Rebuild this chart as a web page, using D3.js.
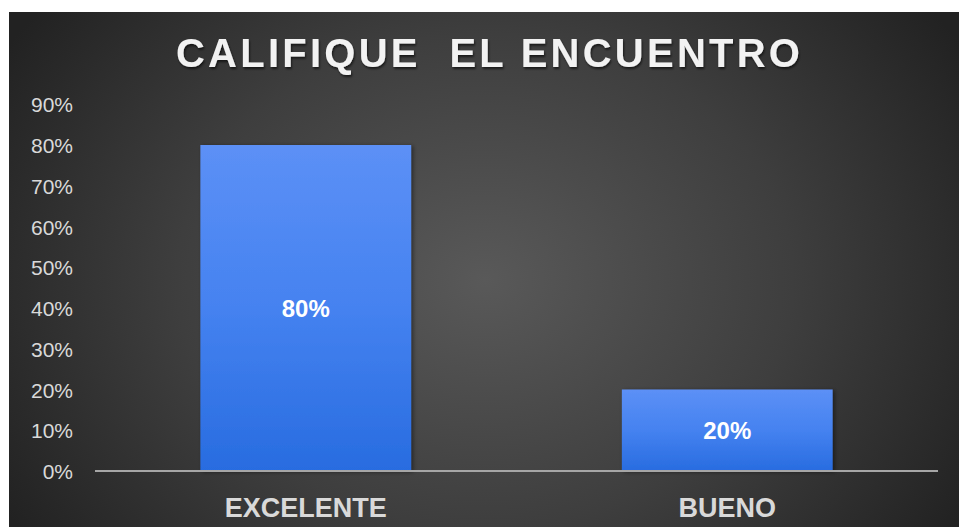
<!DOCTYPE html>
<html>
<head>
<meta charset="utf-8">
<script src="https://cdn.jsdelivr.net/npm/d3@7"></script>
<style>
  html, body { margin: 0; padding: 0; background: #ffffff; }
  svg { display: block; }
</style>
</head>
<body>
<svg id="chart" width="959" height="527"></svg>
<script>
// Survey results: rating of the meeting
const title = "CALIFIQUE  EL ENCUENTRO";
const categories = ["EXCELENTE", "BUENO"];
const values = [0.80, 0.20];
const yTicks = [0, 0.1, 0.2, 0.3, 0.4, 0.5, 0.6, 0.7, 0.8, 0.9];

const W = 959, H = 527;
const frame = { x: 9, y: 12 };
const plot = { left: 95, right: 938, top: 104.25, bottom: 471 };

const svg = d3.select("#chart");
const defs = svg.append("defs");

// dark radial background
const bg = defs.append("radialGradient")
  .attr("id", "bg").attr("gradientUnits", "userSpaceOnUse")
  .attr("cx", 485).attr("cy", 280).attr("r", 560)
  .attr("gradientTransform", "translate(485,280) scale(1,0.8) translate(-485,-280)");
bg.append("stop").attr("offset", "0%").attr("stop-color", "#595959");
bg.append("stop").attr("offset", "55%").attr("stop-color", "#3e3e3e");
bg.append("stop").attr("offset", "100%").attr("stop-color", "#222222");

const barGrad = defs.append("linearGradient")
  .attr("id", "barGrad").attr("x1", 0).attr("y1", 0).attr("x2", 0).attr("y2", 1);
barGrad.append("stop").attr("offset", "0%").attr("stop-color", "#5c90f6");
barGrad.append("stop").attr("offset", "50%").attr("stop-color", "#4582f0");
barGrad.append("stop").attr("offset", "100%").attr("stop-color", "#286ce0");

const barShadow = defs.append("filter").attr("id", "barShadow")
  .attr("x", "-10%").attr("y", "-10%").attr("width", "130%").attr("height", "130%");
barShadow.append("feDropShadow").attr("dx", 2).attr("dy", 1).attr("stdDeviation", 2)
  .attr("flood-color", "#000").attr("flood-opacity", 0.45);

const textShadow = defs.append("filter").attr("id", "textShadow")
  .attr("x", "-5%").attr("y", "-20%").attr("width", "110%").attr("height", "150%");
textShadow.append("feDropShadow").attr("dx", 1).attr("dy", 2).attr("stdDeviation", 1.2)
  .attr("flood-color", "#000").attr("flood-opacity", 0.6);

svg.append("rect")
  .attr("x", frame.x).attr("y", frame.y)
  .attr("width", W - frame.x).attr("height", H - frame.y)
  .attr("fill", "url(#bg)");

// scales
const x = d3.scaleBand()
  .domain(categories)
  .range([plot.left, plot.right])
  .paddingInner(0.5)
  .paddingOuter(0.25);

const y = d3.scaleLinear()
  .domain([0, 0.9])
  .range([plot.bottom, plot.top]);

// title
const titleText = svg.append("text")
  .attr("x", 488).attr("y", 67)
  .attr("text-anchor", "middle")
  .attr("font-family", "Liberation Sans, Arial, sans-serif")
  .attr("font-weight", "bold")
  .attr("font-size", 40)
  .attr("fill", "#f2f2f2")
  .attr("filter", "url(#textShadow)")
  .style("white-space", "pre")
  .text(title);
{
  const natural = titleText.node().getComputedTextLength();
  const target = 624;
  const ls = (target - natural) / (title.length - 1);
  titleText.attr("letter-spacing", ls)
    .attr("x", 488 + ls / 2);
}

// y axis labels (no axis line)
const yAxis = d3.axisLeft(y)
  .tickValues(yTicks)
  .tickFormat(d3.format(".0%"))
  .tickSize(0)
  .tickPadding(0);

const yG = svg.append("g")
  .attr("transform", `translate(73,0)`)
  .call(yAxis);
yG.select(".domain").remove();
yG.selectAll("text")
  .attr("font-family", "Liberation Sans, Arial, sans-serif")
  .attr("font-size", 21)
  .attr("fill", "#d9d9d9")
  .attr("dy", "0.36em");

// bars
svg.append("g").selectAll("rect")
  .data(values)
  .join("rect")
  .attr("x", (d, i) => x(categories[i]))
  .attr("y", d => y(d))
  .attr("width", x.bandwidth())
  .attr("height", d => y(0) - y(d))
  .attr("fill", "url(#barGrad)")
  .attr("filter", "url(#barShadow)");

// value labels
svg.append("g").selectAll("text")
  .data(values)
  .join("text")
  .attr("x", (d, i) => x(categories[i]) + x.bandwidth() / 2)
  .attr("y", d => (y(d) + y(0)) / 2)
  .attr("dy", "0.36em")
  .attr("text-anchor", "middle")
  .attr("font-family", "Liberation Sans, Arial, sans-serif")
  .attr("font-weight", "bold")
  .attr("font-size", 24)
  .attr("fill", "#ffffff")
  .text(d => d3.format(".0%")(d));

// x axis
const xAxis = d3.axisBottom(x).tickSize(0).tickPadding(0);
const xG = svg.append("g")
  .attr("transform", `translate(0,${plot.bottom})`)
  .call(xAxis);
xG.select(".domain").remove();
xG.append("line")
  .attr("x1", plot.left).attr("x2", plot.right)
  .attr("y1", 0).attr("y2", 0)
  .attr("stroke", "#a6a6a6").attr("stroke-width", 2);
xG.selectAll(".tick text")
  .attr("y", 46)
  .attr("dy", 0)
  .attr("font-family", "Liberation Sans, Arial, sans-serif")
  .attr("font-weight", "bold")
  .attr("font-size", 27)
  .attr("fill", "#d9d9d9");
</script>
</body>
</html>
